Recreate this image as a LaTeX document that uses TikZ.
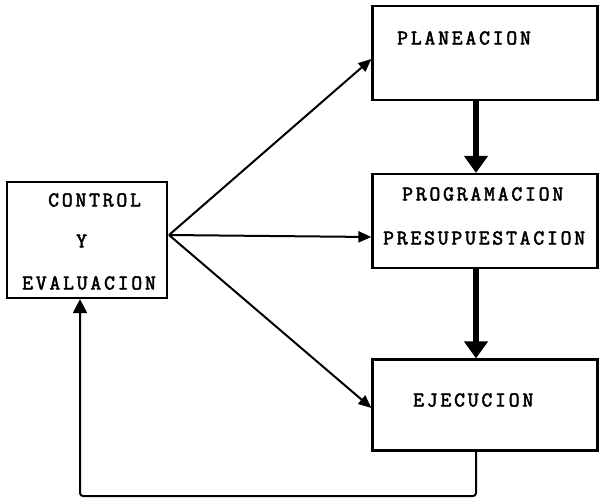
\documentclass[tikz,border=0pt]{standalone}
\usepackage{fontspec}
\newfontfamily\tw[LetterSpace=13.5,FakeBold=2.5]{Latin Modern Mono}
\usetikzlibrary{arrows.meta}
\begin{document}
\begin{tikzpicture}[x=1pt,y=-1pt,
  box/.style={draw,line width=2.2pt,rectangle,inner sep=0pt},
  lbl/.style={font=\tw\fontsize{21}{24}\selectfont,inner sep=0pt,anchor=west},
  thin/.style={line width=2pt,-{Triangle[length=13pt,width=11pt]}},
  thick/.style={line width=6.5pt,-{Triangle[length=17pt,width=23pt]}}]
\useasboundingbox (0,0) rectangle (599,501);
\node[box,minimum width=160pt,minimum height=116pt] (ctrl) at (87,240) {};
\node[box,minimum width=225pt,minimum height=94pt] (plan) at (485,53) {};
\node[box,minimum width=225pt,minimum height=94pt] (prog) at (485,221) {};
\node[box,minimum width=225pt,minimum height=91pt] (ejec) at (485,405) {};
\node[lbl] (tctrl) at (48,200) {CONTROL};
\node[lbl] (ty) at (76,241) {Y};
\node[lbl] (teval) at (22,283) {EVALUACION};
\node[lbl] (tplan) at (397,38) {PLANEACION};
\node[lbl] (tprog) at (402,194) {PROGRAMACION};
\node[lbl] (tpres) at (383,238) {PRESUPUESTACION};
\node[lbl] (tejec) at (413,400) {EJECUCION};
\coordinate (src) at (169,235);
\draw[thin] (src) -- ([yshift=-6pt]plan.west);
\draw[thin] (src) -- ([yshift=-16pt]prog.west);
\draw[thin] (src) -- ([yshift=-3pt]ejec.west);
\draw[thick] (plan.south -| 476,0) -- (prog.north -| 476,0);
\draw[thick] (prog.south -| 476,0) -- (ejec.north -| 476,0);
\draw[line width=2pt,rounded corners=3pt,-{Triangle[length=14pt,width=14pt]}]
  (ejec.south -| 476,0) -- (476,496) -- (80,496) -- (ctrl.south -| 80,0);
\end{tikzpicture}
\end{document}
